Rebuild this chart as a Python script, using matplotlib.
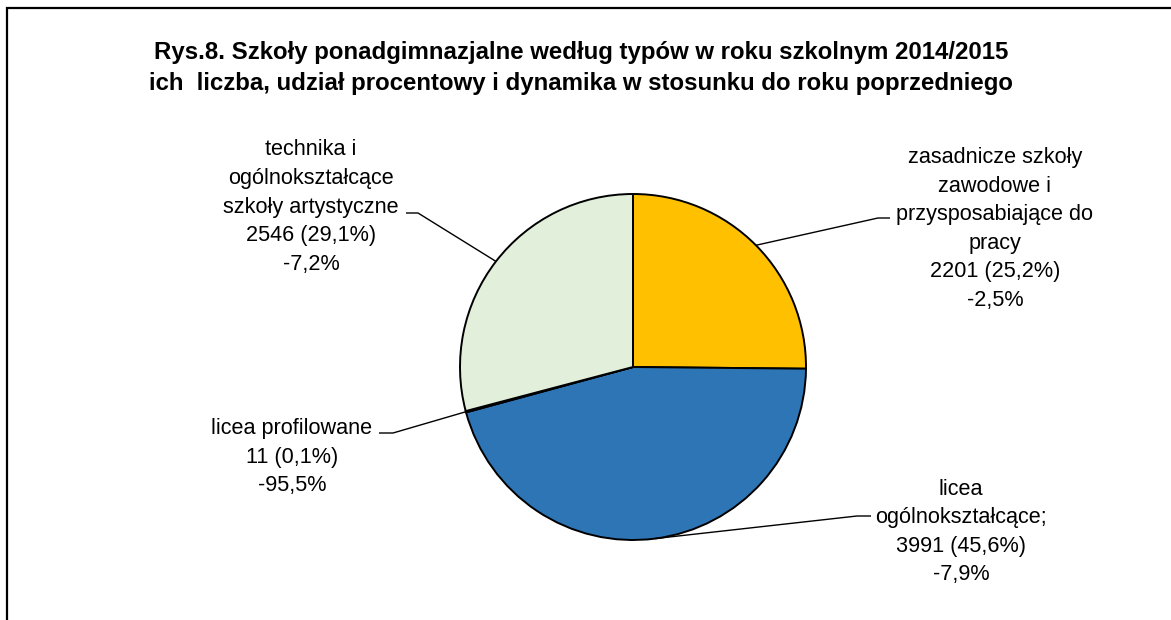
import numpy as np
import matplotlib
matplotlib.use("Agg")
import matplotlib.pyplot as plt
from matplotlib.patches import Rectangle

# data
categories = [
    "zasadnicze szkoły\nzawodowe i\nprzysposabiające do\npracy",
    "licea\nogólnokształcące;",
    "licea profilowane",
    "technika i\nogólnokształcące\nszkoły artystyczne",
]
counts = [2201, 3991, 11, 2546]
change_pct = [-2.5, -7.9, -95.5, -7.2]
colors = ["#FFC000", "#2E75B6", "#1F3864", "#E2EFDA"]

title = ("Rys.8. Szkoły ponadgimnazjalne według typów w roku szkolnym 2014/2015\n"
         "ich  liczba, udział procentowy i dynamika w stosunku do roku poprzedniego")

W, H = 1171, 620
plt.rcParams["font.family"] = ["Liberation Sans", "DejaVu Sans"]


def Y(y):
    # image pixel row -> axes y (upwards)
    return H - y


fig = plt.figure(figsize=(W / 100, H / 100), dpi=100)
ax = fig.add_axes([0, 0, 1, 1])

cx, cy, r = 633, Y(367), 173
wedges, _ = ax.pie(counts, colors=colors, startangle=90, counterclock=False,
                   center=(cx, cy), radius=r,
                   wedgeprops=dict(edgecolor="black", linewidth=1.4))
ax.set_xlim(0, W)
ax.set_ylim(0, H)
ax.axis("off")

# label layout: text centre, elbow of leader line, end of short stub
label_pos = [(995, 229), (961, 532), (292, 457), (311, 207)]
elbows = [(878, 218), (857, 516), (393, 433), (418, 213)]
stub_ends = [(890, 218), (871, 516), (379, 433), (406, 213)]

total = sum(counts)
for i, w in enumerate(wedges):
    share = counts[i] / total * 100
    txt = "%s\n%d (%s%%)\n%s%%" % (categories[i], counts[i],
                                   ("%.1f" % share).replace(".", ","),
                                   ("%.1f" % change_pct[i]).replace(".", ","))
    tx, ty = label_pos[i]
    ax.text(tx, Y(ty), txt, ha="center", va="center", fontsize=15.6,
            linespacing=1.47, color="black")

    ang = np.deg2rad((w.theta1 + w.theta2) / 2)
    px, py = cx + r * np.cos(ang), cy + r * np.sin(ang)
    ex, ey = elbows[i]
    sx, sy = stub_ends[i]
    ax.plot([px, ex, sx], [py, Y(ey), Y(sy)], color="black", lw=1.0,
            solid_capstyle="butt")

fig.text(581 / W, Y(68) / H, title, ha="center", va="center",
         fontsize=17.3, fontweight="bold", linespacing=1.42)

# chart border (left and top edges are visible)
fig.add_artist(Rectangle((7 / W, -0.1), 2.0, (H - 8) / H + 0.1,
                         transform=fig.transFigure, fill=False,
                         edgecolor="black", linewidth=1.6))

fig.savefig("out.png", dpi=100)
